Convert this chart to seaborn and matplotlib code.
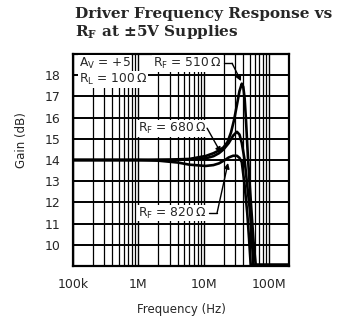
import numpy as np
import pandas as pd
import matplotlib
matplotlib.use("Agg")
import matplotlib.pyplot as plt
import seaborn as sns
from matplotlib.ticker import FixedLocator, NullFormatter

# (Hz, dB)
freq_510 = [1e5, 1e6, 3e6, 6e6, 10.7e6, 14e6, 17e6, 20e6, 23e6, 26e6, 29e6, 32e6, 35e6,
            38e6, 40e6, 42e6, 44e6, 47e6, 51e6, 55e6, 58e6, 62e6, 2e8]
gain_510 = [14.0, 14.0, 14.02, 14.05, 14.19, 14.32, 14.45, 14.6, 14.85, 15.3, 15.9, 16.6, 17.25,
            17.6, 17.45, 16.9, 15.9, 14.2, 12.5, 11.0, 10.0, 9.05, 9.05]

freq_680 = [1e5, 1e6, 3e6, 6e6, 10.7e6, 14e6, 17e6, 20e6, 24e6, 28e6, 32e6, 35e6, 38e6,
            42e6, 46e6, 51e6, 54e6, 57e6, 2e8]
gain_680 = [14.0, 14.0, 14.0, 14.02, 14.08, 14.18, 14.32, 14.5, 14.8, 15.15, 15.33, 15.2, 14.8,
            14.0, 12.8, 11.5, 10.3, 9.05, 9.05]

freq_820 = [1e5, 1e6, 2e6, 4e6, 6e6, 10.7e6, 14e6, 17e6, 21e6, 24e6, 28e6, 32e6, 35e6,
            38e6, 42e6, 46e6, 49e6, 52e6, 2e8]
gain_820 = [14.0, 14.0, 13.97, 13.88, 13.78, 13.72, 13.76, 13.84, 14.0, 14.12, 14.2, 14.2, 14.1,
            13.9, 12.8, 11.5, 10.3, 9.05, 9.05]

x_ticks = [1e5, 1e6, 1e7, 1e8]
x_tick_labels = ["100k", "1M", "10M", "100M"]
y_ticks = [10, 11, 12, 13, 14, 15, 16, 17, 18]

df = pd.concat([
    pd.DataFrame({"freq": freq_510, "gain": gain_510, "rf": "510"}),
    pd.DataFrame({"freq": freq_680, "gain": gain_680, "rf": "680"}),
    pd.DataFrame({"freq": freq_820, "gain": gain_820, "rf": "820"}),
])

sns.set_style("white")
plt.rcParams["font.family"] = ["DejaVu Sans"]
plt.rcParams["mathtext.fontset"] = "custom"
plt.rcParams["mathtext.rm"] = "DejaVu Sans"
plt.rcParams["mathtext.bf"] = "DejaVu Serif:bold"

fig = plt.figure(figsize=(3.4, 3.2), dpi=100)
ax = fig.add_axes([73 / 340, 1 - 266 / 320, 216 / 340, 212 / 320])

ax.set_xscale("log")
ax.set_xlim(1e5, 2e8)
ax.set_ylim(9, 19)

# grid first so curves sit on top
ax.xaxis.set_major_locator(FixedLocator(x_ticks))
ax.xaxis.set_minor_locator(FixedLocator([m * d for d in [1e5, 1e6, 1e7, 1e8] for m in range(2, 10) if m * d < 2e8]))
ax.xaxis.set_minor_formatter(NullFormatter())
ax.set_yticks(y_ticks)
ax.grid(True, which="major", axis="x", color="black", lw=1.0)
ax.grid(True, which="minor", axis="x", color="black", lw=0.9)
ax.grid(True, which="major", axis="y", color="black", lw=1.4)
ax.set_axisbelow(True)

sns.lineplot(data=df, x="freq", y="gain", hue="rf", palette=["black"] * 3,
             estimator=None, sort=False, lw=1.9, legend=False, ax=ax)

ax.set_xticks(x_ticks)
ax.set_xticklabels(x_tick_labels)
ax.tick_params(axis="both", which="both", length=0, labelsize=9)
ax.tick_params(axis="x", pad=9)
ax.tick_params(axis="y", pad=9)
ax.set_xlabel("")
ax.set_ylabel("")
for s in ax.spines.values():
    s.set_color("black")
    s.set_linewidth(1.6)

box = dict(facecolor="white", edgecolor="none", pad=0.6)
ax.text(1.22e5, 18.56, r"A$_\mathrm{V}$ = +5", fontsize=8.8, ha="left", va="center", bbox=box)
ax.text(1.22e5, 17.81, "R$_\\mathrm{L}$ = 100\u2009Ω", fontsize=8.8, ha="left", va="center", bbox=box)

ax.text(19.0e6, 18.56, "R$_\\mathrm{F}$ = 510\u2009Ω", fontsize=8.8, ha="right", va="center", bbox=box)
ax.text(10.9e6, 15.5, "R$_\\mathrm{F}$ = 680\u2009Ω", fontsize=8.8, ha="right", va="center", bbox=box)
ax.text(10.9e6, 11.5, "R$_\\mathrm{F}$ = 820\u2009Ω", fontsize=8.8, ha="right", va="center", bbox=box)

arrow = dict(arrowstyle="-|>", color="black", lw=1.0, mutation_scale=8, shrinkA=0, shrinkB=0)
ax.plot([20.4e6, 27.0e6], [18.56, 18.56], color="black", lw=1.0)
ax.annotate("", xy=(37.0e6, 17.72), xytext=(27.0e6, 18.56), arrowprops=arrow)
ax.annotate("", xy=(18.2e6, 14.34), xytext=(11.2e6, 15.5), arrowprops=arrow)
ax.plot([12.1e6, 15.9e6], [11.5, 11.5], color="black", lw=1.0)
ax.annotate("", xy=(23.4e6, 13.86), xytext=(15.9e6, 11.5), arrowprops=arrow)

fig.text(75 / 340, 1 - 14 / 320, "Driver Frequency Response vs", fontfamily="DejaVu Serif",
         fontweight="bold", fontsize=11, ha="left", va="center")
fig.text(75 / 340, 1 - 32 / 320, "R$_\\mathbf{F}$ at \u00b15V Supplies", fontfamily="DejaVu Serif",
         fontweight="bold", fontsize=11, ha="left", va="center")
fig.text(22 / 340, 1 - 140 / 320, "Gain (dB)", rotation=90, fontsize=8.5, ha="center", va="center")
fig.text(181 / 340, 1 - 310 / 320, "Frequency (Hz)", fontsize=8.5, ha="center", va="center")

fig.savefig("out.png", dpi=100, facecolor="white")
